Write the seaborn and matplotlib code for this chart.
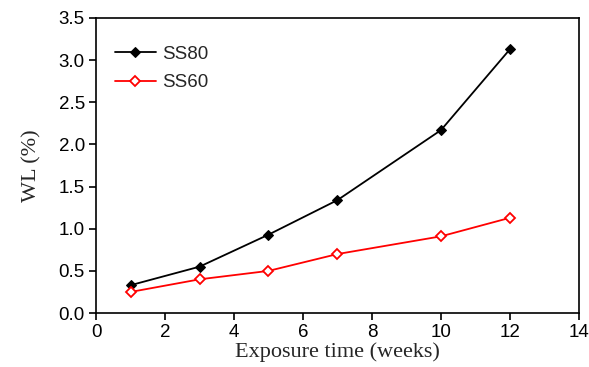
import matplotlib
matplotlib.use("Agg")
import matplotlib.pyplot as plt
import seaborn as sns
import pandas as pd

weeks = [1, 3, 5, 7, 10, 12]
ss80 = [0.33, 0.55, 0.93, 1.34, 2.17, 3.13]
ss60 = [0.25, 0.40, 0.50, 0.70, 0.91, 1.13]
series_names = ["SS80", "SS60"]
x_ticks = [0, 2, 4, 6, 8, 10, 12, 14]
y_ticks = [0.0, 0.5, 1.0, 1.5, 2.0, 2.5, 3.0, 3.5]

sns.set_theme(style="ticks")
plt.rcParams['font.family'] = ['Liberation Sans', 'DejaVu Sans']

df = pd.DataFrame({
    "weeks": weeks * 2,
    "wl": ss80 + ss60,
    "series": [series_names[0]] * len(weeks) + [series_names[1]] * len(weeks),
})

fig = plt.figure(figsize=(5.89, 3.67), dpi=100)
ax = fig.add_axes([0.163, 0.147, 0.820, 0.804])

d80 = df[df.series == "SS80"]
d60 = df[df.series == "SS60"]
sns.lineplot(data=d80, x="weeks", y="wl", ax=ax, color="black", marker="D",
             markersize=5.5, markerfacecolor="black", markeredgecolor="black",
             linewidth=1.3, label="SS80")
sns.lineplot(data=d60, x="weeks", y="wl", ax=ax, color="#ff0000", marker="D",
             markersize=5.5, markerfacecolor="white", markeredgecolor="#ff0000",
             markeredgewidth=1.3, linewidth=1.3, label="SS60")

ax.set_xlim(0, 14)
ax.set_ylim(0, 3.5)
ax.set_xticks(x_ticks)
ax.set_yticks(y_ticks)
ax.set_xticklabels([str(t) for t in x_ticks])
ax.set_yticklabels([f"{t:.1f}" for t in y_ticks])
ax.tick_params(axis="both", direction="out", length=5, width=1.2, labelsize=13.5,
               colors="black", pad=3)
for s in ax.spines.values():
    s.set_linewidth(1.2)
    s.set_color("black")

ax.set_xlabel("Exposure time (weeks)", fontsize=16, family=["Liberation Serif"], labelpad=1)
ax.set_ylabel("WL (%)", fontsize=16, family=["Liberation Serif"], labelpad=12)

leg = ax.legend(loc="upper left", frameon=False, fontsize=13.5, handlelength=2.2,
                handletextpad=0.3, borderaxespad=0.6, labelspacing=0.6,
                bbox_to_anchor=(0.0, 0.97))

fig.savefig("out.png", dpi=100)
